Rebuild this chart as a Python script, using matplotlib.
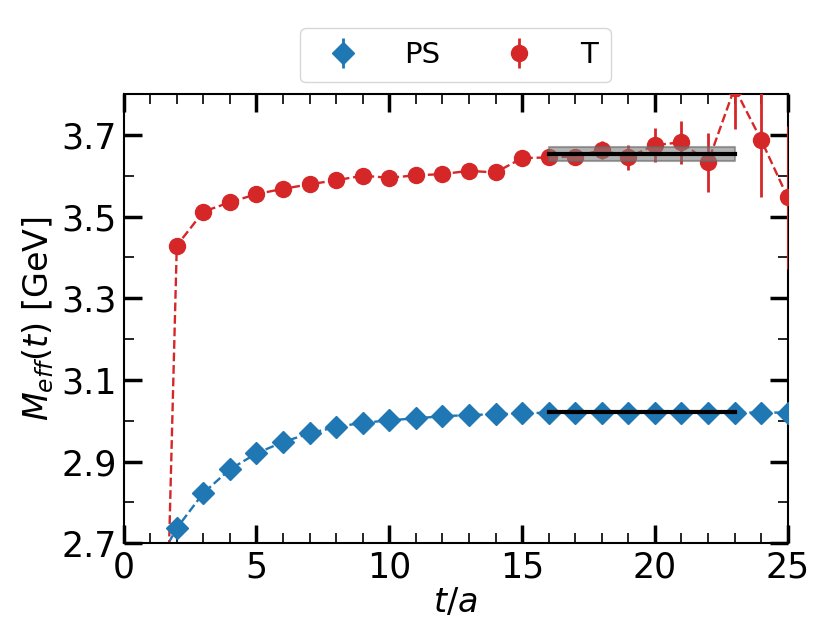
import matplotlib
matplotlib.use("Agg")
import matplotlib.pyplot as plt
import numpy as np

t_ps = [1, 2, 3, 4, 5, 6, 7, 8, 9, 10, 11, 12, 13, 14, 15, 16, 17, 18, 19, 20, 21, 22, 23, 24, 25]
m_ps = [2.62, 2.737, 2.823, 2.881, 2.920, 2.948, 2.969, 2.985, 2.995, 3.001, 3.006, 3.011, 3.014,
        3.016, 3.018, 3.020, 3.020, 3.020, 3.020, 3.020, 3.020, 3.020, 3.020, 3.020, 3.020]
e_ps = [0.001] * 25

t_t = [1, 2, 3, 4, 5, 6, 7, 8, 9, 10, 11, 12, 13, 14, 15, 16, 17, 18, 19, 20, 21, 22, 23, 24, 25]
m_t = [0.9, 3.429, 3.512, 3.535, 3.555, 3.568, 3.579, 3.589, 3.600, 3.595, 3.601, 3.604, 3.612,
       3.608, 3.643, 3.645, 3.647, 3.663, 3.645, 3.675, 3.682, 3.633, 3.815, 3.688, 3.547]
e_t = [0.002, 0.003, 0.003, 0.003, 0.003, 0.003, 0.004, 0.004, 0.004, 0.005, 0.005, 0.006, 0.007,
       0.008, 0.009, 0.010, 0.012, 0.022, 0.031, 0.041, 0.053, 0.072, 0.100, 0.141, 0.176]

fit_range = [16, 23]
fit_ps = 3.021
fit_t = 3.653
fit_t_err = 0.017

blue = "#1f77b4"
red = "#d62728"

fig = plt.figure(figsize=(8.3, 6.23), dpi=100)
ax = fig.add_axes([0.149, 0.128, 0.800, 0.721])

ax.errorbar(t_ps, m_ps, yerr=e_ps, fmt="D", color=blue, ms=11, elinewidth=2, label="PS", zorder=3)
ax.plot(t_ps, m_ps, "--", color=blue, lw=1.7, zorder=2)
ax.errorbar(t_t, m_t, yerr=e_t, fmt="o", color=red, ms=11.5, elinewidth=2, label="T", zorder=3)
ax.plot(t_t, m_t, "--", color=red, lw=1.7, zorder=2)

ax.fill_between(fit_range, [fit_t - fit_t_err] * 2, [fit_t + fit_t_err] * 2,
                color="gray", alpha=0.6, edgecolor="dimgray", lw=1.5, zorder=4)
ax.plot(fit_range, [fit_t] * 2, color="black", lw=3, zorder=5)
ax.plot(fit_range, [fit_ps] * 2, color="black", lw=3, zorder=5)

ax.set_xlim(0, 25)
ax.set_ylim(2.7, 3.8)
ax.set_xticks([0, 5, 10, 15, 20, 25])
ax.set_yticks([2.7, 2.9, 3.1, 3.3, 3.5, 3.7])
ax.set_xticks(np.arange(0, 26, 1), minor=True)
ax.set_yticks(np.arange(2.7, 3.81, 0.1), minor=True)
ax.tick_params(which="both", direction="in", top=True, right=True, labelsize=25)
ax.tick_params(which="major", length=13, width=2.5, pad=5)
ax.tick_params(which="minor", length=7, width=1.2)
for s in ax.spines.values():
    s.set_linewidth(1.5)

ax.set_xlabel(r"$t/a$", fontsize=24, labelpad=1)
ax.set_ylabel(r"$M_{eff}(t)$ [GeV]", fontsize=24, labelpad=4)

ax.legend(loc="lower center", bbox_to_anchor=(0.5, 1.0), ncol=2, fontsize=21,
          handletextpad=1.1, columnspacing=1.7, borderaxespad=0.4, borderpad=0.45)

fig.savefig("out.png", dpi=100)
